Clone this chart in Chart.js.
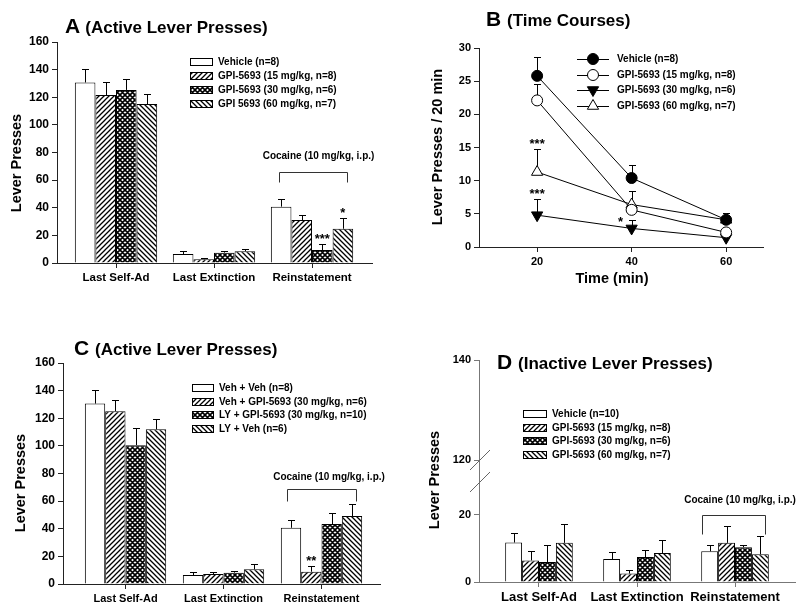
<!DOCTYPE html>
<html lang="en">
<head>
<meta charset="utf-8">
<title>GPI-5693 lever presses</title>
<script src="https://cdn.jsdelivr.net/npm/chart.js@4.4.1/dist/chart.umd.min.js"></script>
<style>
  body { margin: 0; background: #fff; }
  #lienzo { position: relative; width: 800px; height: 610px; overflow: hidden; font-family: Arial, "Liberation Sans", sans-serif; color: #000; }
  .panel { position: absolute; }
  .titulo { position: absolute; font-weight: bold; font-size: 21px; line-height: 21px; white-space: nowrap; }
  .titulo span { font-size: 17px; }
  .eje { position: absolute; font-weight: bold; font-size: 14.5px; white-space: nowrap; transform: translate(-50%, -50%) rotate(-90deg); }
  .ejex { position: absolute; font-weight: bold; font-size: 14.5px; white-space: nowrap; transform: translate(-50%, -50%); }
</style>
</head>
<body>
<div id="lienzo">
  <div class="panel" style="left:0;top:0;width:400px;height:300px"><canvas id="graficaA"></canvas></div>
  <div class="panel" style="left:400px;top:0;width:400px;height:300px"><canvas id="graficaB"></canvas></div>
  <div class="panel" style="left:0;top:300px;width:400px;height:310px"><canvas id="graficaC"></canvas></div>
  <div class="panel" style="left:400px;top:300px;width:400px;height:310px"><canvas id="graficaD"></canvas></div>

  <div class="titulo" style="left:65px;top:15px">A <span>(Active Lever Presses)</span></div>
  <div class="titulo" style="left:486px;top:8px">B <span>(Time Courses)</span></div>
  <div class="titulo" style="left:74px;top:337px">C <span>(Active Lever Presses)</span></div>
  <div class="titulo" style="left:497px;top:351px">D <span>(Inactive Lever Presses)</span></div>

  <div class="eje" style="left:16px;top:163px">Lever Presses</div>
  <div class="eje" style="left:437px;top:147px">Lever Presses / 20 min</div>
  <div class="eje" style="left:20px;top:483px">Lever Presses</div>
  <div class="eje" style="left:434px;top:480px">Lever Presses</div>
  <div class="ejex" style="left:612px;top:278px">Time (min)</div>
</div>

<script>
'use strict'
//Datos

const grupos = ['Last Self-Ad', 'Last Extinction', 'Reinstatement'];
const cocaina = 'Cocaine (10 mg/kg, i.p.)';

//Panel A (presiones activas)
const etiquetasA = ['Vehicle (n=8)', 'GPI-5693 (15 mg/kg, n=8)', 'GPI-5693 (30 mg/kg, n=6)', 'GPI 5693 (60 mg/kg, n=7)'];
const vehiculoA = [130.7, 6.5, 40.8];
const vehiculoA_sem = [9.8, 2.4, 5.3];
const gpi15A = [121.6, 2.7, 31.1];
const gpi15A_sem = [9.7, 0.8, 3.7];
const gpi30A = [125.3, 7.5, 9.4];
const gpi30A_sem = [7.7, 1.4, 4.1];
const gpi60A = [115.1, 8.5, 24.8];
const gpi60A_sem = [7.3, 1.6, 7.6];
const estrellasA = [[2, 2, '***'], [3, 2, '*']];

//Panel B (curso temporal)
const tiempos = [20, 40, 60];
const etiquetasB = ['Vehicle (n=8)', 'GPI-5693 (15 mg/kg, n=8)', 'GPI-5693 (30 mg/kg, n=6)', 'GPI-5693 (60 mg/kg, n=7)'];
const vehiculoB = [25.8, 10.4, 4.1];
const vehiculoB_sem = [2.8, 1.9, 1.0];
const gpi15B = [22.1, 5.6, 2.2];
const gpi15B_sem = [2.5, 0.8, 0.4];
const gpi30B = [4.8, 2.8, 1.4];
const gpi30B_sem = [2.5, 1.2, 0.4];
const gpi60B = [11.3, 6.4, 4.1];
const gpi60B_sem = [3.4, 2.0, 1.1];
const estrellasB = [[3, 0, '***'], [2, 0, '***'], [2, 1, '*']];

//Panel C (presiones activas, LY)
const etiquetasC = ['Veh + Veh (n=8)', 'Veh + GPI-5693 (30 mg/kg, n=6)', 'LY + GPI-5693 (30 mg/kg, n=10)', 'LY + Veh (n=6)'];
const vehVehC = [130.6, 6.5, 40.7];
const vehVehC_sem = [10.2, 2.4, 5.6];
const vehGpiC = [125.1, 7.2, 8.9];
const vehGpiC_sem = [7.9, 1.7, 4.1];
const lyGpiC = [100.5, 8.2, 43.4];
const lyGpiC_sem = [12.1, 1.0, 7.7];
const lyVehC = [112.0, 10.6, 49.2];
const lyVehC_sem = [7.8, 3.6, 8.4];
const estrellasC = [[1, 2, '**']];

//Panel D (presiones inactivas)
const etiquetasD = ['Vehicle (n=10)', 'GPI-5693 (15 mg/kg, n=8)', 'GPI-5693 (30 mg/kg, n=6)', 'GPI-5693 (60 mg/kg, n=7)'];
const vehiculoD = [11.7, 6.8, 9.1];
const vehiculoD_sem = [2.7, 2.2, 2.0];
const gpi15D = [6.4, 2.5, 11.6];
const gpi15D_sem = [2.7, 1.0, 5.1];
const gpi30D = [5.9, 7.4, 10.3];
const gpi30D_sem = [5.2, 2.0, 0.8];
const gpi60D = [11.6, 8.6, 8.2];
const gpi60D_sem = [5.6, 3.8, 5.4];
const ticksAbajoD = [0, 20];
const ticksArribaD = [120, 140];

const fuente = 'Arial, "Liberation Sans", sans-serif';
Chart.defaults.font.family = fuente;
Chart.defaults.color = '#000';

//Rellenos rayados como en la figura
function patron(tipo) {
    const s = 5;
    const c = document.createElement('canvas');
    c.width = s;
    c.height = s;
    const g = c.getContext('2d');
    g.fillStyle = '#fff';
    g.fillRect(0, 0, s, s);
    g.strokeStyle = '#000';
    g.lineWidth = tipo === 'cruz' ? 1.6 : 1.3;
    g.beginPath();
    if (tipo === '/' || tipo === 'cruz') {
        g.moveTo(-1, s + 1); g.lineTo(s + 1, -1);
        g.moveTo(-1, 1); g.lineTo(1, -1);
        g.moveTo(s - 1, s + 1); g.lineTo(s + 1, s - 1);
    }
    if (tipo === '\\' || tipo === 'cruz') {
        g.moveTo(-1, -1); g.lineTo(s + 1, s + 1);
        g.moveTo(s - 1, -1); g.lineTo(s + 1, 1);
        g.moveTo(-1, s - 1); g.lineTo(1, s + 1);
    }
    g.stroke();
    return g.createPattern(c, 'repeat');
}
const rellenos = ['#fff', patron('/'), patron('cruz'), patron('\\')];

//Plugin: barras de error, asteriscos, corchete, leyenda y corte del eje
function pixelError(chart, d, j) {
    const ds = chart.data.datasets[d];
    const meta = chart.getDatasetMeta(d);
    return chart.scales[meta.yAxisID].getPixelForValue(ds.data[j].y + ds.sem[j]);
}

function barrasError(chart, o) {
    const ctx = chart.ctx;
    ctx.save();
    ctx.strokeStyle = '#000';
    ctx.lineWidth = 1;
    chart.data.datasets.forEach((ds, d) => {
        chart.getDatasetMeta(d).data.forEach((el, j) => {
            const x = Math.round(el.x) + 0.5;
            const y1 = Math.round(pixelError(chart, d, j)) + 0.5;
            ctx.beginPath();
            ctx.moveTo(x, el.y);
            ctx.lineTo(x, y1);
            ctx.moveTo(x - o.cap / 2, y1);
            ctx.lineTo(x + o.cap / 2, y1);
            ctx.stroke();
        });
    });
    ctx.restore();
}

function estrellas(chart, o) {
    if (!o.estrellas) return;
    const ctx = chart.ctx;
    const mover = o.mover || {};
    ctx.save();
    ctx.font = 'bold 13px ' + fuente;
    ctx.textAlign = 'center';
    ctx.textBaseline = 'alphabetic';
    ctx.fillStyle = '#000';
    o.estrellas.forEach(e => {
        const d = e[0], j = e[1];
        const off = mover[d + '-' + j] || [0, 0];
        const el = chart.getDatasetMeta(d).data[j];
        ctx.fillText(e[2], el.x + off[0], pixelError(chart, d, j) - 1 + off[1]);
    });
    ctx.restore();
}

function corchete(chart, o) {
    const c = o.corchete;
    if (!c) return;
    const ctx = chart.ctx;
    const m0 = chart.getDatasetMeta(0);
    const mN = chart.getDatasetMeta(chart.data.datasets.length - 1);
    const esc = chart.scales[m0.yAxisID];
    const x0 = Math.round(m0.data[c.grupo].x - c.pad[0]) + 0.5;
    const x1 = Math.round(mN.data[c.grupo].x + c.pad[1]) + 0.5;
    const y = Math.round(esc.getPixelForValue(c.y)) + 0.5;
    ctx.save();
    ctx.strokeStyle = '#333';
    ctx.lineWidth = 1;
    ctx.beginPath();
    ctx.moveTo(x0, y + c.pata);
    ctx.lineTo(x0, y);
    ctx.lineTo(x1, y);
    ctx.lineTo(x1, y + c.pata);
    ctx.stroke();
    ctx.font = 'bold 10px ' + fuente;
    ctx.fillStyle = '#000';
    ctx.textAlign = 'center';
    ctx.textBaseline = 'middle';
    ctx.fillText(c.texto, (x0 + x1) / 2 + c.dx, esc.getPixelForValue(c.textoY));
    ctx.restore();
}

function marcador(ctx, ds, x, y) {
    const r = ds.pointRadius;
    ctx.beginPath();
    if (ds.pointStyle === 'circle') {
        ctx.arc(x, y, r, 0, Math.PI * 2);
    } else {
        const rot = (ds.pointRotation || 0) * Math.PI / 180;
        for (let k = 0; k < 3; k++) {
            const a = rot + k * 2 * Math.PI / 3;
            ctx.lineTo(x + Math.sin(a) * r, y - Math.cos(a) * r);
        }
        ctx.closePath();
    }
    ctx.fillStyle = ds.pointBackgroundColor;
    ctx.fill();
    ctx.stroke();
}

function leyenda(chart, o) {
    const l = o.leyenda;
    if (!l) return;
    const ctx = chart.ctx;
    const a = chart.chartArea;
    ctx.save();
    ctx.font = 'bold 10px ' + fuente;
    ctx.textBaseline = 'middle';
    ctx.strokeStyle = '#000';
    ctx.lineWidth = 1;
    chart.data.datasets.forEach((ds, d) => {
        const x = Math.round(a.left + l.x);
        const y = Math.round(a.top + l.y + d * l.paso);
        if (l.tipo === 'caja') {
            ctx.fillStyle = ds.backgroundColor;
            ctx.fillRect(x, y - 4, l.ancho, 8);
            ctx.strokeRect(x + 0.5, y - 3.5, l.ancho - 1, 7);
            ctx.fillStyle = '#000';
            ctx.fillText(ds.label, x + l.ancho + 5, y);
        } else {
            ctx.beginPath();
            ctx.moveTo(x, y + 0.5);
            ctx.lineTo(x + 32, y + 0.5);
            ctx.stroke();
            marcador(ctx, ds, x + 16, y);
            ctx.fillStyle = '#000';
            ctx.fillText(ds.label, x + 40, y);
        }
    });
    ctx.restore();
}

function corte(chart, o) {
    if (!o.corte) return;
    const ctx = chart.ctx;
    const esc = chart.scales.y;
    const x = esc.right;
    const y = esc.top;
    ctx.save();
    ctx.strokeStyle = '#666';
    ctx.lineWidth = 1;
    ctx.beginPath();
    ctx.moveTo(x - 9, y - 1); ctx.lineTo(x + 11, y - 21);
    ctx.moveTo(x - 9, y + 21); ctx.lineTo(x + 11, y + 1);
    ctx.stroke();
    ctx.restore();
}

const extras = {
    id: 'extras',
    beforeDatasetsDraw(chart, args, o) {
        if (o.errorDebajo) barrasError(chart, o);
    },
    afterDatasetsDraw(chart, args, o) {
        if (!o.errorDebajo) barrasError(chart, o);
        estrellas(chart, o);
        corchete(chart, o);
        leyenda(chart, o);
        corte(chart, o);
    }
};

//Constructores de series
function serieBarra(etiqueta, valores, sem, i, ancho) {
    return {
        label: etiqueta,
        data: valores.map((v, k) => ({ x: k + 1, y: v })),
        sem: sem,
        backgroundColor: rellenos[i],
        borderColor: '#000',
        borderWidth: 1,
        categoryPercentage: ancho,
        barPercentage: 1
    };
}

function serieLinea(etiqueta, valores, sem, estilo) {
    return Object.assign({
        label: etiqueta,
        data: tiempos.map((t, k) => ({ x: t, y: valores[k] })),
        sem: sem,
        borderColor: '#000',
        borderWidth: 1,
        pointBorderColor: '#000',
        pointBorderWidth: 1,
        tension: 0
    }, estilo);
}

function ejeX(min, max, tam, alto, color) {
    return {
        type: 'linear', min: min, max: max, offset: false,
        afterBuildTicks: s => { s.ticks = grupos.map((g, i) => ({ value: i + 1 })); },
        afterFit: s => { s.height = alto; },
        ticks: { callback: v => grupos[v - 1], font: { size: tam, weight: 'bold' }, maxRotation: 0, autoSkip: false, padding: 3 },
        grid: { drawOnChartArea: false, offset: false, tickLength: 5, color: color },
        border: { color: color }
    };
}

function ejeY(min, max, paso, tam, color) {
    return {
        min: min, max: max,
        afterFit: s => { s.width = 40; },
        ticks: { stepSize: paso, font: { size: tam, weight: 'bold' }, padding: 3 },
        grid: { drawOnChartArea: false, tickLength: 5, color: color },
        border: { color: color }
    };
}

function base(padding, extrasCfg, scales) {
    return {
        animation: false,
        responsive: true,
        maintainAspectRatio: false,
        layout: { padding: padding },
        plugins: { legend: { display: false }, tooltip: { enabled: false }, extras: extrasCfg },
        scales: scales
    };
}

//Panel A
new Chart(document.getElementById('graficaA'), {
    type: 'bar',
    data: {
        datasets: [
            serieBarra(etiquetasA[0], vehiculoA, vehiculoA_sem, 0, 0.84),
            serieBarra(etiquetasA[1], gpi15A, gpi15A_sem, 1, 0.84),
            serieBarra(etiquetasA[2], gpi30A, gpi30A_sem, 2, 0.84),
            serieBarra(etiquetasA[3], gpi60A, gpi60A_sem, 3, 0.84)
        ]
    },
    options: base({ left: 17, top: 42, right: 28, bottom: 7 }, {
        cap: 7,
        estrellas: estrellasA,
        leyenda: { tipo: 'caja', x: 133, y: 20, paso: 14, ancho: 23 },
        corchete: { grupo: 2, y: 66, pata: 10, pad: [2, 4], texto: cocaina, textoY: 77, dx: 5 }
    }, {
        x: ejeX(0.398, 3.612, 11.5, 30, '#222'),
        y: ejeY(0, 160, 20, 12, '#222')
    }),
    plugins: [extras]
});

//Panel B
new Chart(document.getElementById('graficaB'), {
    type: 'line',
    data: {
        datasets: [
            serieLinea(etiquetasB[0], vehiculoB, vehiculoB_sem, { pointStyle: 'circle', pointRadius: 5.5, pointBackgroundColor: '#000' }),
            serieLinea(etiquetasB[1], gpi15B, gpi15B_sem, { pointStyle: 'circle', pointRadius: 5.5, pointBackgroundColor: '#fff' }),
            serieLinea(etiquetasB[2], gpi30B, gpi30B_sem, { pointStyle: 'triangle', pointRadius: 6.5, pointRotation: 180, pointBackgroundColor: '#000' }),
            serieLinea(etiquetasB[3], gpi60B, gpi60B_sem, { pointStyle: 'triangle', pointRadius: 6.5, pointBackgroundColor: '#fff' })
        ]
    },
    options: base({ left: 39, top: 48, right: 37, bottom: 23 }, {
        cap: 7,
        errorDebajo: true,
        estrellas: estrellasB,
        mover: { '2-1': [-11, 7] },
        leyenda: { tipo: 'linea', x: 98, y: 11, paso: 15.5 }
    }, {
        x: {
            type: 'linear', min: 7.7, max: 67.8,
            afterBuildTicks: s => { s.ticks = tiempos.map(t => ({ value: t })); },
            afterFit: s => { s.height = 30; },
            ticks: { font: { size: 11, weight: 'bold' }, padding: 3 },
            grid: { drawOnChartArea: false, tickLength: 5, color: '#222' },
            border: { color: '#222' }
        },
        y: ejeY(0, 30, 5, 11, '#222')
    }),
    plugins: [extras]
});

//Panel C
new Chart(document.getElementById('graficaC'), {
    type: 'bar',
    data: {
        datasets: [
            serieBarra(etiquetasC[0], vehVehC, vehVehC_sem, 0, 0.83),
            serieBarra(etiquetasC[1], vehGpiC, vehGpiC_sem, 1, 0.83),
            serieBarra(etiquetasC[2], lyGpiC, lyGpiC_sem, 2, 0.83),
            serieBarra(etiquetasC[3], lyVehC, lyVehC_sem, 3, 0.83)
        ]
    },
    options: base({ left: 23, top: 63, right: 20, bottom: 0 }, {
        cap: 7,
        estrellas: estrellasC,
        leyenda: { tipo: 'caja', x: 129, y: 25, paso: 13.7, ancho: 22 },
        corchete: { grupo: 2, y: 68.5, pata: 12, pad: [4, 4], texto: cocaina, textoY: 77.6, dx: 7 }
    }, {
        x: ejeX(0.362, 3.597, 11, 26, '#222'),
        y: ejeY(0, 160, 20, 12, '#222')
    }),
    plugins: [extras]
});

//Panel D (eje Y partido: dos escalas apiladas)
const yAbajo = ejeY(0, 32.9, 20, 11, '#777');
yAbajo.stack = 'partido';
yAbajo.stackWeight = 1;
yAbajo.afterBuildTicks = s => { s.ticks = ticksAbajoD.map(v => ({ value: v })); };
const yArriba = ejeY(117.8, 140, 20, 11, '#777');
yArriba.stack = 'partido';
yArriba.stackWeight = 1;
yArriba.position = 'left';
yArriba.afterBuildTicks = s => { s.ticks = ticksArribaD.map(v => ({ value: v })); };
yAbajo.position = 'left';

new Chart(document.getElementById('graficaD'), {
    type: 'bar',
    data: {
        datasets: [
            serieBarra(etiquetasD[0], vehiculoD, vehiculoD_sem, 0, 0.69),
            serieBarra(etiquetasD[1], gpi15D, gpi15D_sem, 1, 0.69),
            serieBarra(etiquetasD[2], gpi30D, gpi30D_sem, 2, 0.69),
            serieBarra(etiquetasD[3], gpi60D, gpi60D_sem, 3, 0.69)
        ]
    },
    options: base({ left: 39, top: 60, right: 5, bottom: 0 }, {
        cap: 7,
        corte: true,
        leyenda: { tipo: 'caja', x: 44, y: 54, paso: 13.7, ancho: 24 },
        corchete: { grupo: 2, y: 20, pata: 19, pad: [8, 5], texto: cocaina, textoY: 24.2, dx: 6 }
    }, {
        x: ejeX(0.388, 3.612, 13, 28, '#777'),
        y: yAbajo,
        y2: yArriba
    }),
    plugins: [extras]
});
</script>
</body>
</html>
